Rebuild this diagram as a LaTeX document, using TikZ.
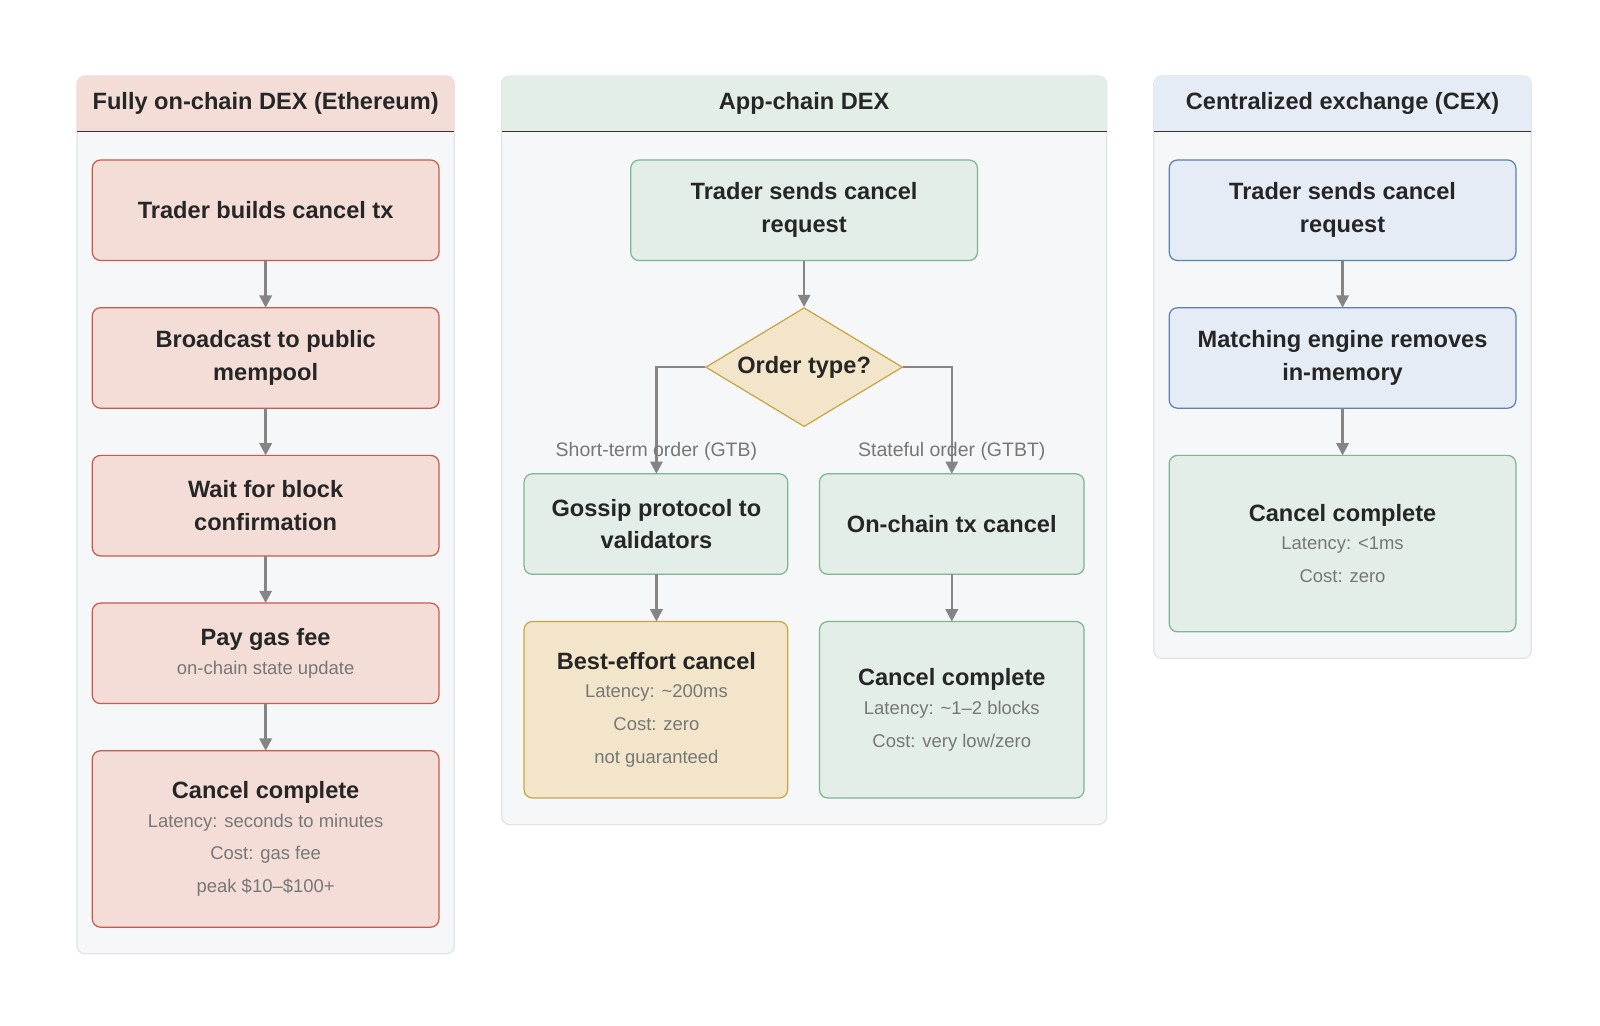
\documentclass[tikz,border=0pt]{standalone}
\usepackage{fontspec}
\setmainfont{Liberation Sans}
\usetikzlibrary{shapes.geometric,arrows.meta}
\definecolor{rf}{HTML}{F3DDD6}\definecolor{rb}{HTML}{C95A4C}
\definecolor{gf}{HTML}{E2EEE7}\definecolor{gb}{HTML}{7DB68F}
\definecolor{bf}{HTML}{E6ECF5}\definecolor{bb}{HTML}{5D80AE}
\definecolor{yf}{HTML}{F2E5CA}\definecolor{yb}{HTML}{C9A544}
\definecolor{pf}{HTML}{F6F7F9}\definecolor{pb}{HTML}{E1E3E7}
\definecolor{sub}{HTML}{777777}\definecolor{ar}{HTML}{858585}
\tikzset{x=0.5pt,y=-0.5pt,
 panel/.style={fill=pf,draw=pb,line width=0.6pt,rounded corners=4pt},
 box/.style={rounded corners=4pt,line width=0.6pt,align=center,font=\fontsize{11.5}{16}\selectfont\bfseries,text=black!85},
 sub/.style={font=\fontsize{9}{15}\selectfont,text=sub},
 arr/.style={draw=ar,line width=1.2pt,-{Triangle[length=6pt,width=6pt]}},
 lab/.style={font=\fontsize{9.5}{12}\selectfont,text=sub}}
\newcommand{\bx}[6]{\path[#1] (#2,#3) rectangle (#4,#5); \node[box] (#6) at ({(#2+#4)/2},{(#3+#5)/2}) {};}
\begin{document}
\begin{tikzpicture}
\useasboundingbox[fill=white] (0,0) rectangle (1560,1000);
% panels
\foreach \a/\b/\c/\h in {75/443/930/rf,489/1079/804/gf,1125/1493/642/bf}{
 \draw[panel] (\a,74) rectangle (\b,\c);
 \fill[\h,rounded corners=4pt] (\a,74) rectangle (\b,128);
 \fill[\h] (\a,100) rectangle (\b,128);
 \draw[black!80,line width=0.6pt] (\a,128) -- (\b,128);}
\node[box] at (259,101) {Fully on-chain DEX (Ethereum)};
\node[box] at (784,101) {App-chain DEX};
\node[box] at (1309,101) {Centralized exchange (CEX)};
% panel 1
\draw[fill=rf,draw=rb,rounded corners=4pt,line width=0.6pt] (90,156) rectangle (428,254);
\node[box] (a1) at (259,205) {Trader builds cancel tx};
\draw[fill=rf,draw=rb,rounded corners=4pt,line width=0.6pt] (90,300) rectangle (428,398);
\node[box] (a2) at (259,349) {Broadcast to public\\mempool};
\draw[fill=rf,draw=rb,rounded corners=4pt,line width=0.6pt] (90,444) rectangle (428,542);
\node[box] (a3) at (259,493) {Wait for block\\confirmation};
\draw[fill=rf,draw=rb,rounded corners=4pt,line width=0.6pt] (90,588) rectangle (428,686);
\node[box] (a4) at (259,637) {Pay gas fee\\[-2pt]{\normalfont\fontsize{9}{15}\selectfont\color{sub}on-chain state update}};
\draw[fill=rf,draw=rb,rounded corners=4pt,line width=0.6pt] (90,732) rectangle (428,904);
\node[box] (a5) at (259,818) {Cancel complete\\[-2pt]{\normalfont\fontsize{9}{15}\selectfont\color{sub}Latency: seconds to minutes}\\{\normalfont\fontsize{9}{15}\selectfont\color{sub}Cost: gas fee}\\{\normalfont\fontsize{9}{15}\selectfont\color{sub}peak \$10–\$100+}};
\coordinate (p1) at (259,254);\coordinate (q1) at (259,300);
\coordinate (p2) at (259,398);\coordinate (q2) at (259,444);
\coordinate (p3) at (259,542);\coordinate (q3) at (259,588);
\coordinate (p4) at (259,686);\coordinate (q4) at (259,732);
\foreach \i in {1,...,4}{\draw[arr] (p\i) -- (q\i);}
% panel 2
\draw[fill=gf,draw=gb,rounded corners=4pt,line width=0.6pt] (615,156) rectangle (953,254);
\node[box] (b1) at (784,205) {Trader sends cancel\\request};
\node[diamond,draw=yb,fill=yf,line width=0.6pt,minimum width=192*0.5pt,minimum height=116*0.5pt,inner sep=0pt,aspect=1.65,font=\fontsize{11.5}{14}\selectfont\bfseries,text=black!85] (d) at (784,358) {Order type?};
\draw[fill=gf,draw=gb,rounded corners=4pt,line width=0.6pt] (511,462) rectangle (768,560);
\node[box] (b2) at (640,511) {Gossip protocol to\\validators};
\draw[fill=gf,draw=gb,rounded corners=4pt,line width=0.6pt] (799,462) rectangle (1057,560);
\node[box] (b3) at (928,511) {On-chain tx cancel};
\draw[fill=yf,draw=yb,rounded corners=4pt,line width=0.6pt] (511,606) rectangle (768,778);
\node[box] (b4) at (640,692) {Best-effort cancel\\[-2pt]{\normalfont\fontsize{9}{15}\selectfont\color{sub}Latency: \textasciitilde200ms}\\{\normalfont\fontsize{9}{15}\selectfont\color{sub}Cost: zero}\\{\normalfont\fontsize{9}{15}\selectfont\color{sub}not guaranteed}};
\draw[fill=gf,draw=gb,rounded corners=4pt,line width=0.6pt] (799,606) rectangle (1057,778);
\node[box] (b5) at (928,692) {Cancel complete\\[-2pt]{\normalfont\fontsize{9}{15}\selectfont\color{sub}Latency: \textasciitilde1–2 blocks}\\{\normalfont\fontsize{9}{15}\selectfont\color{sub}Cost: very low/zero}};
\draw[arr] (784,254) -- (d.north);
\draw[arr] (d.west) -| (640,462);
\draw[arr] (d.east) -| (928,462);
\node[lab] at (640,440) {Short-term order (GTB)};
\node[lab] at (928,440) {Stateful order (GTBT)};
\draw[arr] (640,560) -- (640,606);
\draw[arr] (928,560) -- (928,606);
% panel 3
\draw[fill=bf,draw=bb,rounded corners=4pt,line width=0.6pt] (1140,156) rectangle (1478,254);
\node[box] (c1) at (1309,205) {Trader sends cancel\\request};
\draw[fill=bf,draw=bb,rounded corners=4pt,line width=0.6pt] (1140,300) rectangle (1478,398);
\node[box] (c2) at (1309,349) {Matching engine removes\\in-memory};
\draw[fill=gf,draw=gb,rounded corners=4pt,line width=0.6pt] (1140,444) rectangle (1478,616);
\node[box] (c3) at (1309,530) {Cancel complete\\[-2pt]{\normalfont\fontsize{9}{15}\selectfont\color{sub}Latency: <1ms}\\{\normalfont\fontsize{9}{15}\selectfont\color{sub}Cost: zero}};
\draw[arr] (1309,254) -- (1309,300);
\draw[arr] (1309,398) -- (1309,444);
\end{tikzpicture}
\end{document}
